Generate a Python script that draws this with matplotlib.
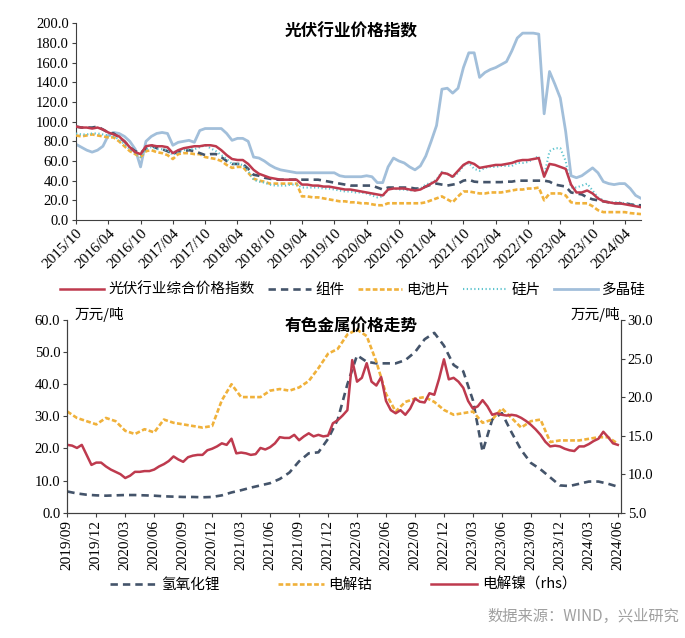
import numpy as np
import pandas as pd
import matplotlib
matplotlib.use("Agg")
import matplotlib.pyplot as plt
from matplotlib.ticker import FormatStrFormatter

plt.rcParams['font.family'] = ['Liberation Serif', 'Noto Sans CJK SC']
CJK = ['Noto Sans CJK SC', 'DejaVu Sans']

# ---------------- 光伏行业价格指数, monthly from 2015/10 ----------------
pv_start = '2015-10'
pv_index = [95, 94, 94, 93, 94, 92,  89, 87, 85, 80, 74, 69,
            67, 75, 76, 75, 75, 74,  68, 71, 73, 74, 75, 75,
            76, 76, 75, 71, 66, 62,  61, 61, 57, 51, 47, 45,
            43, 42, 41, 41, 41, 41,  36, 36, 35, 35, 34, 34,
            33, 32, 31, 31, 30, 29,  28, 27, 26, 25, 31, 32,
            32, 32, 31, 30, 31, 34,  37, 40, 48, 47, 44, 50,
            56, 59, 57, 53, 54, 55,  56, 56, 57, 58, 60, 61,
            61, 62, 63, 44, 57, 56,  54, 52, 36, 28, 28, 30,
            27, 22, 19, 18, 17, 17,  16, 15, 14, 13]
module = [95, 94, 94, 94, 95, 92,  89, 88, 84, 80, 74, 70,
          68, 73, 76, 73, 72, 70,  67, 70, 70, 71, 70, 68,
          66, 67, 67, 64, 60, 57,  57, 57, 52, 46, 45, 43,
          42, 41, 41, 41, 41, 41,  41, 41, 41, 41, 40, 39,
          38, 37, 36, 35, 35, 35,  35, 35, 33, 31, 33, 33,
          33, 33, 33, 32, 32, 34,  36, 37, 36, 35, 36, 37,
          40, 41, 39, 38.5, 38.5, 38.5,  38.5, 38.5, 39, 39, 40, 40,
          40, 40, 40, 40, 39, 36,  35, 34, 28, 27, 26, 23,
          21, 20, 19, 18, 17, 17,  17, 16, 15, 15]
cell = [86, 85, 86, 87, 86, 85,  84, 84, 80, 75, 70, 67,
        64, 70, 71, 69, 68, 66,  62, 67, 68, 68, 67, 67,
        64, 63, 62, 60, 56, 53,  54, 54, 48, 42, 40, 39,
        37, 37, 37, 37, 37, 37,  24, 24, 23, 23, 22, 21,
        20, 19, 19, 18, 18, 17,  17, 16, 15, 15, 17, 17,
        17, 17, 17, 17, 17, 18,  20, 22, 24, 21, 18, 24,
        29, 29, 28, 27, 27, 28,  28, 28, 29, 30, 31, 31,
        32, 32, 33, 20, 27, 27,  27, 25, 18, 17, 17, 17,
        14, 10, 8, 8, 8, 8,  8, 7, 6.5, 6]
wafer = [88, 87, 87, 88, 88, 87,  86, 85, 82, 77, 72, 68,
         64, 72, 74, 72, 72, 71,  66, 70, 71, 72, 72, 74,
         76, 73, 70, 66, 62, 57,  57, 56, 50, 41, 39, 38,
         36, 35, 35, 35, 36, 36,  33, 33, 33, 33, 32, 32,
         31, 30, 29, 29, 28, 28,  27, 25, 23, 24, 31, 32,
         31, 31, 30, 30, 32, 36,  38, 41, 49, 47, 43, 48,
         55, 58, 52, 50, 53, 54,  54, 55, 55, 55, 58, 58,
         59, 62, 65, 45, 70, 73,  73, 60, 33, 33, 35, 37,
         30, 23, 20, 18, 18, 18,  17, 16, 15, 14]
poly = [77, 74, 71, 69, 71, 75,  86, 89, 88, 85, 80, 72,
        54, 80, 85, 88, 89, 88,  76, 79, 80, 81, 79, 91,
        93, 93, 93, 93, 88, 81,  83, 83, 80, 64, 63, 60,
        56, 53, 51, 50, 49, 48,  48, 48, 48, 48, 48, 48,
        48, 45, 44, 44, 44, 44,  45, 44, 38, 38, 54, 63,
        60, 58, 54, 51, 55, 65,  80, 96, 133, 134, 129, 134,
        155, 170, 170, 145, 150, 153,  155, 158, 161, 172, 185, 190,
        190, 190, 189, 108, 151, 138,  124, 90, 45, 43, 45, 49,
        53, 48, 39, 37, 36, 37,  37, 32, 25, 22]

# ---------------- 有色金属价格走势 ----------------
metal_start = '2019-09'
# monthly, 万元/吨
lithium = [6.6, 6.0, 5.6, 5.4, 5.3, 5.4, 5.5, 5.5, 5.4, 5.3, 5.1, 5.0,
           4.9, 4.9, 4.8, 4.9, 5.4, 6.3, 7.0, 7.8, 8.5, 9.2, 10.5, 12.5,
           16.0, 18.5, 18.8, 23.0, 29.0, 40.0, 49.0, 47.0, 46.5, 46.5, 46.5, 47.5,
           50.0, 54.0, 56.0, 52.0, 46.0, 44.0, 35.0, 19.0, 29.0, 31.0, 25.0, 19.5,
           15.5, 13.5, 11.0, 8.5, 8.3, 9.0, 9.7, 9.7, 9.0, 8.1]
cobalt = [31.5, 29.5, 28.5, 27.5, 29.5, 28.5, 25.5, 24.5, 26.0, 25.0, 29.0, 28.0,
          27.5, 27.0, 26.5, 27.0, 35.0, 40.0, 36.0, 36.0, 36.0, 38.0, 38.5, 38.0,
          39.0, 41.0, 45.0, 49.5, 51.0, 55.5, 57.0, 55.0, 47.0, 37.0, 31.5, 34.5,
          35.5, 36.0, 34.5, 32.0, 30.5, 31.0, 31.5, 28.0, 29.0, 32.5, 29.5, 26.5,
          28.5, 29.0, 22.0, 22.5, 22.5, 22.5, 23.0, 23.5, 23.5, 21.5]
# half-monthly, 万元/吨 (rhs)
nickel = [13.8, 13.7, 13.4, 13.8, 12.5, 11.2, 11.5, 11.5, 11.0, 10.6, 10.3, 10.0,
          9.5, 9.8, 10.3, 10.3, 10.4, 10.4, 10.6, 11.0, 11.3, 11.7, 12.3, 11.9,
          11.6, 12.2, 12.4, 12.5, 12.5, 13.1, 13.3, 13.6, 14.0, 13.8, 14.6, 12.7,
          12.8, 12.7, 12.5, 12.6, 13.4, 13.2, 13.5, 14.0, 14.8, 14.7, 14.7, 15.1,
          14.4, 14.9, 15.3, 14.9, 15.1, 14.9, 15.0, 16.6, 17.0, 17.6, 18.3, 24.8,
          22.0, 22.5, 24.4, 22.0, 21.5, 22.6, 19.5, 18.3, 17.9, 18.3, 17.7, 18.5,
          19.8, 19.4, 19.3, 20.5, 20.3, 22.4, 24.9, 22.3, 22.5, 22.0, 21.2, 19.5,
          18.5, 18.8, 19.6, 18.8, 17.7, 17.9, 17.7, 17.6, 17.7, 17.6, 17.3, 16.9,
          16.4, 15.8, 15.1, 14.2, 13.6, 13.7, 13.6, 13.3, 13.1, 13.0, 13.6, 13.6,
          13.9, 14.3, 14.6, 15.5, 14.8, 14.0, 13.8]

RED = '#BE3A4E'
NAVY = '#44546A'
ORANGE = '#F0B13A'
TEAL = '#5EC4CF'
BLUE = '#A2BFDA'

W, H = 685, 638
fig = plt.figure(figsize=(W / 100, H / 100), dpi=100)


def box(x0, y0, x1, y1):
    # pixel box -> figure fraction
    return [x0 / W, 1 - y1 / H, (x1 - x0) / W, (y1 - y0) / H]


def style_axis(ax):
    for s in ax.spines.values():
        s.set_color('#404040')
        s.set_linewidth(0.8)
    ax.tick_params(length=3, width=0.8, color='#404040', labelsize=10.5, pad=2)


# ---------- top chart ----------
ax1 = fig.add_axes(box(76, 23.3, 641, 220))
pv_months = pd.period_range(pv_start, periods=len(pv_index), freq='M')
x1 = np.arange(len(pv_index))
l_poly, = ax1.plot(x1, poly, color=BLUE, lw=2.0, zorder=2)
l_cell, = ax1.plot(x1, cell, color=ORANGE, lw=1.9, dashes=(1.8, 0.9), zorder=3)
l_mod, = ax1.plot(x1, module, color=NAVY, lw=1.9, dashes=(2.8, 1.9), zorder=4)
l_waf, = ax1.plot(x1, wafer, color=TEAL, lw=1.5, dashes=(0.6, 1.2), zorder=5)
l_idx, = ax1.plot(x1, pv_index, color=RED, lw=1.8, zorder=6)
ax1.set_xlim(0, len(pv_index) - 1)
ax1.set_ylim(0, 200)
ax1.set_yticks(np.arange(0, 201, 20))
ax1.yaxis.set_major_formatter(FormatStrFormatter('%.1f'))
tick_pos = x1[::6]
ax1.set_xticks(tick_pos)
ax1.set_xticklabels([pv_months[i].strftime('%Y/%m') for i in tick_pos],
                    rotation=45, ha='right', va='top', rotation_mode='anchor',
                    fontsize=11)
ax1.spines['top'].set_visible(False)
ax1.spines['right'].set_visible(False)
style_axis(ax1)
ax1.tick_params(axis='x', labelsize=11)

fig.text(351 / W, 1 - 31 / H, '光伏行业价格指数', ha='center', va='center',
         fontsize=12, fontweight='bold', family=CJK)
fig.legend([l_idx, l_mod, l_cell, l_waf, l_poly],
           ['光伏行业综合价格指数', '组件', '电池片', '硅片', '多晶硅'],
           loc='center', bbox_to_anchor=(353 / W, 1 - 290 / H), ncol=5,
           frameon=False, prop={'family': CJK, 'size': 10.5},
           handlelength=3.0, handletextpad=0.3, columnspacing=0.9)

# ---------- bottom chart ----------
ax2 = fig.add_axes(box(67.3, 320, 620.7, 512.7))
ax2r = ax2.twinx()
metal_months = pd.period_range(metal_start, periods=len(lithium), freq='M')
x2 = np.arange(len(lithium))
xn = np.arange(len(nickel)) / 2
l_li, = ax2.plot(x2, lithium, color=NAVY, lw=1.9, dashes=(2.8, 1.9))
l_co, = ax2.plot(x2, cobalt, color=ORANGE, lw=1.9, dashes=(1.8, 0.9))
l_ni, = ax2r.plot(xn, nickel, color=RED, lw=1.8)
ax2.set_xlim(0, 57.3)
ax2.set_ylim(0, 60)
ax2.set_yticks(np.arange(0, 61, 10))
ax2.yaxis.set_major_formatter(FormatStrFormatter('%.1f'))
ax2r.set_ylim(5, 30)
ax2r.set_yticks(np.arange(5, 31, 5))
ax2r.yaxis.set_major_formatter(FormatStrFormatter('%.1f'))
mt = x2[::3]
ax2.set_xticks(mt)
ax2.set_xticklabels([metal_months[i].strftime('%Y/%m') for i in mt],
                    rotation=90, fontsize=11)
for a in (ax2, ax2r):
    a.spines['top'].set_visible(False)
    style_axis(a)
ax2.tick_params(axis='x', labelsize=11)

fig.text(75 / W, 1 - 315 / H, '万元/吨', ha='left', va='center',
         fontsize=10.5, family=CJK)
fig.text(620 / W, 1 - 315 / H, '万元/吨', ha='right', va='center',
         fontsize=10.5, family=CJK)
fig.text(351 / W, 1 - 326 / H, '有色金属价格走势', ha='center', va='center',
         fontsize=12, fontweight='bold', family=CJK)
fig.legend([l_li, l_co, l_ni], ['氢氧化锂', '电解钴', '电解镍（rhs）'],
           loc='center', bbox_to_anchor=(343 / W, 1 - 585 / H), ncol=3,
           frameon=False, prop={'family': CJK, 'size': 10.5},
           handlelength=3.2, handletextpad=0.3, columnspacing=4.0)

fig.text(679 / W, 1 - 616 / H, '数据来源：WIND，兴业研究', ha='right', va='center',
         fontsize=11, color='#A0A0A0', family=CJK)

fig.savefig('out.png', dpi=100)
